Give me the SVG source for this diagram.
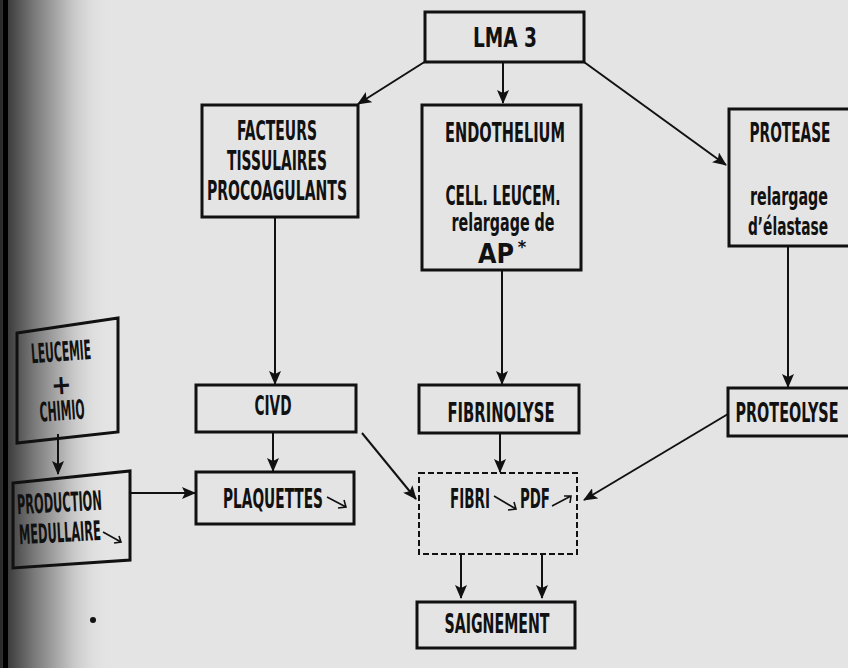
<svg xmlns="http://www.w3.org/2000/svg" width="848" height="668" viewBox="0 0 848 668">
<defs>
<linearGradient id="edge" x1="0" y1="0" x2="1" y2="0">
<stop offset="0" stop-color="#2a2a2a"/>
<stop offset="0.3" stop-color="#777"/>
<stop offset="0.65" stop-color="#c4c4c4"/>
<stop offset="1" stop-color="#e4e4e4" stop-opacity="0"/>
</linearGradient>
<marker id="ah" viewBox="0 0 14 12" refX="13" refY="6" markerWidth="14" markerHeight="12" markerUnits="userSpaceOnUse" orient="auto">
<path d="M0,0 L14,6 L0,12 L3,6 Z" fill="#111"/>
</marker>
<style>
.bx{fill:none;stroke:#111;stroke-width:3}
.dash{fill:none;stroke:#111;stroke-width:2;stroke-dasharray:6 3}
.ln{fill:none;stroke:#111;stroke-width:2;marker-end:url(#ah)}
.sm{fill:none;stroke:#111;stroke-width:1.6}
text{font-family:"Liberation Sans Narrow","DejaVu Sans Condensed","Liberation Sans",sans-serif;font-weight:bold;font-size:27px;fill:#111;text-anchor:middle}
.lc{font-size:25px}
</style>
</defs>
<rect width="848" height="668" fill="#e4e4e4"/>
<rect x="0" y="0" width="110" height="668" fill="url(#edge)"/>
<rect x="3" y="0" width="5" height="668" fill="#000"/>

<g id="connectors">
<line class="ln" x1="426" y1="61" x2="358" y2="104"/>
<line class="ln" x1="503" y1="62" x2="503" y2="103"/>
<line class="ln" x1="584" y1="62" x2="726" y2="165"/>
<line class="ln" x1="275" y1="218" x2="275" y2="384"/>
<line class="ln" x1="502" y1="271" x2="502" y2="384"/>
<line class="ln" x1="788" y1="247" x2="788" y2="387"/>
<line class="ln" x1="58" y1="434" x2="58" y2="474"/>
<line class="ln" x1="131" y1="493" x2="195" y2="493"/>
<line class="ln" x1="273" y1="433" x2="273" y2="471"/>
<line class="ln" x1="500" y1="434" x2="500" y2="472"/>
<line class="ln" x1="362" y1="433" x2="416" y2="499"/>
<line class="ln" x1="728" y1="414" x2="584" y2="500"/>
<line class="ln" x1="461" y1="555" x2="461" y2="598"/>
<line class="ln" x1="542" y1="555" x2="542" y2="598"/>
</g>

<g id="lma3">
<rect class="bx" x="425" y="12" width="159" height="50"/>
<text x="505" y="47" textLength="64" lengthAdjust="spacingAndGlyphs">LMA 3</text>
</g>

<g id="facteurs">
<rect class="bx" x="202" y="105" width="156" height="112"/>
<text x="277" y="140" textLength="80" lengthAdjust="spacingAndGlyphs">FACTEURS</text>
<text x="277" y="170" textLength="100" lengthAdjust="spacingAndGlyphs">TISSULAIRES</text>
<text x="277" y="200" textLength="140" lengthAdjust="spacingAndGlyphs">PROCOAGULANTS</text>
</g>

<g id="endothelium">
<rect class="bx" x="422" y="105" width="159" height="165"/>
<text x="505" y="142" textLength="120" lengthAdjust="spacingAndGlyphs">ENDOTHELIUM</text>
<text x="503" y="205" textLength="115" lengthAdjust="spacingAndGlyphs">CELL. LEUCEM.</text>
<text class="lc" x="503" y="231" textLength="103" lengthAdjust="spacingAndGlyphs">relargage de</text>
<text x="496" y="263" textLength="36" lengthAdjust="spacingAndGlyphs">AP</text>
<text x="522" y="253" style="font-size:18px">*</text>
</g>

<g id="protease">
<path class="bx" d="M848,109 H729 V246 H848"/>
<text x="790" y="142" textLength="81" lengthAdjust="spacingAndGlyphs">PROTEASE</text>
<text class="lc" x="789" y="205" textLength="78" lengthAdjust="spacingAndGlyphs">relargage</text>
<text class="lc" x="788" y="235" textLength="80" lengthAdjust="spacingAndGlyphs">d’élastase</text>
</g>

<g id="leucemie">
<polygon class="bx" points="17,333 118,318 118,432 17,443"/>
<g transform="rotate(-4 63 380)">
<text x="63" y="361" textLength="60" lengthAdjust="spacingAndGlyphs">LEUCEMIE</text>
<text x="61" y="394">+</text>
<text x="60" y="420" textLength="45" lengthAdjust="spacingAndGlyphs">CHIMIO</text>
</g>
</g>

<g id="production">
<polygon class="bx" points="13,483 130,471 130,560 13,568"/>
<g transform="rotate(-3 60 515)">
<text x="60" y="512" textLength="85" lengthAdjust="spacingAndGlyphs">PRODUCTION</text>
<text x="59" y="542" textLength="82" lengthAdjust="spacingAndGlyphs">MEDULLAIRE</text>
</g>
<path class="sm" d="M103,532 L121,542 M114,543 L121,542 L119,536"/>
</g>

<g id="civd">
<rect class="bx" x="196" y="385" width="160" height="47"/>
<text x="273" y="415" textLength="37" lengthAdjust="spacingAndGlyphs">CIVD</text>
</g>

<g id="plaquettes">
<rect class="bx" x="196" y="472" width="158" height="52"/>
<text x="273" y="508" textLength="100" lengthAdjust="spacingAndGlyphs">PLAQUETTES</text>
<path class="sm" d="M327,497 L346,507 M338,508 L346,507 L344,500"/>
</g>

<g id="fibrinolyse">
<rect class="bx" x="419" y="385" width="160" height="48"/>
<text x="501" y="422" textLength="107" lengthAdjust="spacingAndGlyphs">FIBRINOLYSE</text>
</g>

<g id="proteolyse">
<path class="bx" d="M848,388 H728 V436 H848"/>
<text x="787" y="422" textLength="103" lengthAdjust="spacingAndGlyphs">PROTEOLYSE</text>
</g>

<g id="fibri">
<rect class="dash" x="419" y="473" width="158" height="81"/>
<text x="470" y="508" textLength="40" lengthAdjust="spacingAndGlyphs">FIBRI</text>
<path class="sm" d="M494,496 L516,509 M508,510 L516,509 L514,502"/>
<text x="535" y="508" textLength="30" lengthAdjust="spacingAndGlyphs">PDF</text>
<path class="sm" d="M552,506 L571,496 M564,496 L571,496 L570,503"/>
</g>

<g id="saignement">
<rect class="bx" x="417" y="602" width="158" height="46"/>
<text x="497" y="633" textLength="105" lengthAdjust="spacingAndGlyphs">SAIGNEMENT</text>
</g>

<circle cx="93" cy="620" r="3" fill="#111"/>
</svg>
